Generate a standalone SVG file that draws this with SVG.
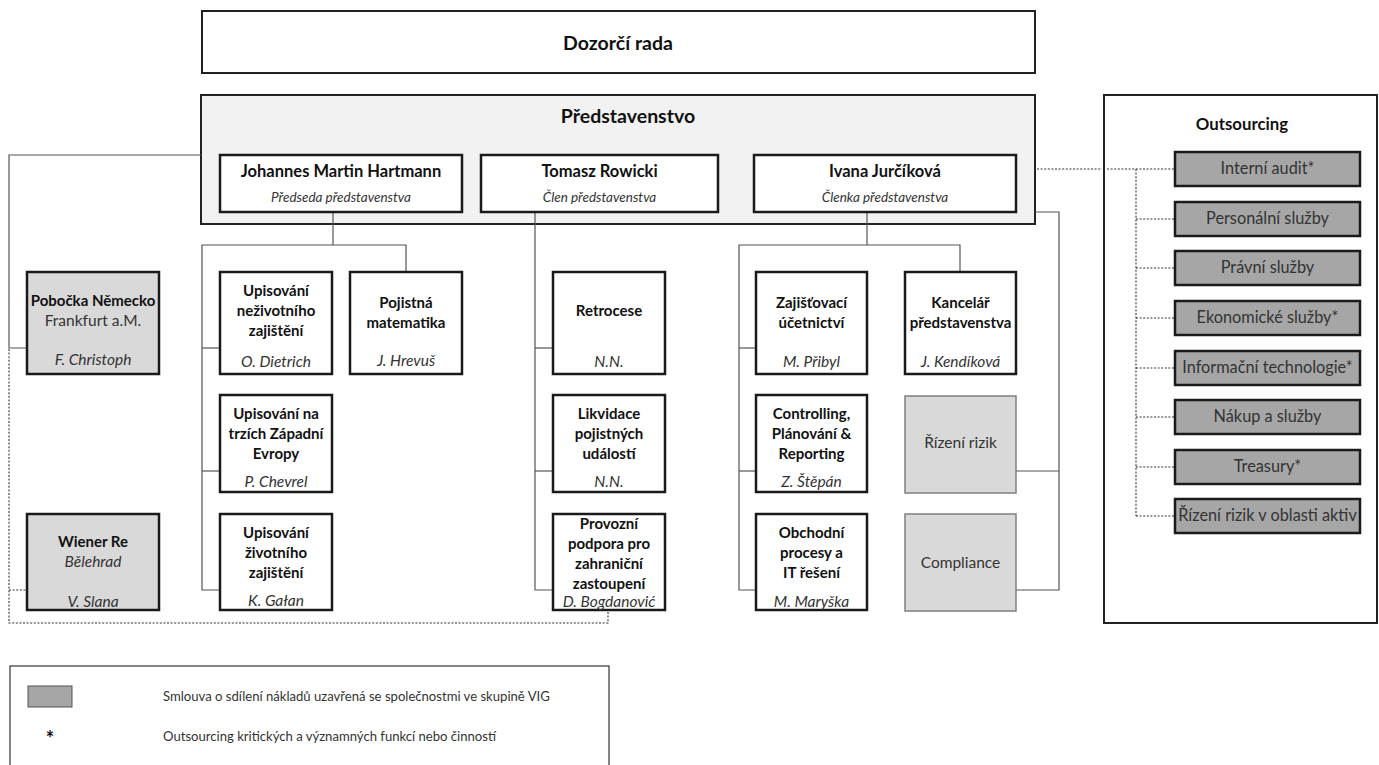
<svg xmlns="http://www.w3.org/2000/svg" width="1379" height="765" viewBox="0 0 1379 765">
<style>
text{font-family:Lato,"Open Sans","Liberation Sans",sans-serif;text-anchor:middle;fill:#111}
.b{font-weight:bold;font-size:15px}
.i{font-style:italic;font-size:15.5px;fill:#333}
.r{font-size:15.5px;fill:#333}
.o{font-size:16.3px;fill:#333}
.h{font-weight:bold;font-size:19.5px}
.box{fill:#fff;stroke:#1a1a1a;stroke-width:2.5}
.grey{fill:#d9d9d9;stroke:#1a1a1a;stroke-width:2.5}
.soft{fill:#d9d9d9;stroke:#7f7f7f;stroke-width:1.5}
.out{fill:#a6a6a6;stroke:#1a1a1a;stroke-width:2.5}
.ln{fill:none;stroke:#555;stroke-width:1.2}
.dt{fill:none;stroke:#333;stroke-width:1.1;stroke-dasharray:2 1.6}
.lt{font-size:13.1px;fill:#333;text-anchor:start}
</style>

<g id="dozorci-rada">
<rect x="202" y="11" width="833" height="62" fill="#fff" stroke="#222" stroke-width="2"/>
<text class="h" x="618" y="50">Dozorčí rada</text>
</g>

<g id="predstavenstvo">
<rect x="201" y="95" width="834" height="129" fill="#f2f2f2" stroke="#222" stroke-width="2"/>
<text class="h" x="628" y="123">Představenstvo</text>
</g>

<g id="outsourcing">
<rect x="1104" y="95" width="273" height="528" fill="#fff" stroke="#222" stroke-width="2"/>
<text class="b" x="1242" y="130" style="font-size:16.8px">Outsourcing</text>
</g>

<g id="legend">
<rect x="10" y="666" width="599" height="110" fill="#fff" stroke="#333" stroke-width="1.2"/>
<rect x="28" y="686" width="44" height="21" fill="#a6a6a6" stroke="#555" stroke-width="1"/>
<text class="lt" x="163" y="701">Smlouva o sdílení nákladů uzavřená se společnostmi ve skupině VIG</text>
<text x="50" y="746" style="font-size:20px;font-weight:bold">*</text>
<text class="lt" x="163" y="741">Outsourcing kritických a významných funkcí nebo činností</text>
</g>

<g id="connectors">
<polyline class="ln" points="201,155 9,155 9,348 27,348"/>
<polyline class="dt" points="9,349 9,623 608,623 608,611"/>
<line class="dt" x1="9" y1="590" x2="27" y2="590"/>
<line class="ln" x1="333" y1="212" x2="333" y2="245"/>
<polyline class="ln" points="406,272 406,245 202,245 202,590 220,590"/>
<line class="ln" x1="202" y1="348" x2="220" y2="348"/>
<line class="ln" x1="202" y1="471" x2="220" y2="471"/>
<polyline class="ln" points="535,212 535,590 553,590"/>
<line class="ln" x1="535" y1="348" x2="553" y2="348"/>
<line class="ln" x1="535" y1="471" x2="553" y2="471"/>
<line class="ln" x1="867" y1="212" x2="867" y2="245"/>
<polyline class="ln" points="960,272 960,245 739,245 739,590 756,590"/>
<line class="ln" x1="739" y1="348" x2="756" y2="348"/>
<line class="ln" x1="739" y1="471" x2="756" y2="471"/>
<polyline class="ln" points="1035,212 1059,212 1059,590 1016,590"/>
<line class="ln" x1="1059" y1="471" x2="1016" y2="471"/>
<line class="dt" x1="1037" y1="169" x2="1102" y2="169"/>
<line class="dt" x1="1107" y1="169" x2="1175" y2="169"/>
<line class="dt" x1="1136" y1="169" x2="1136" y2="516"/>
<line class="dt" x1="1136" y1="219" x2="1175" y2="219"/>
<line class="dt" x1="1136" y1="268" x2="1175" y2="268"/>
<line class="dt" x1="1136" y1="318" x2="1175" y2="318"/>
<line class="dt" x1="1136" y1="368" x2="1175" y2="368"/>
<line class="dt" x1="1136" y1="417" x2="1175" y2="417"/>
<line class="dt" x1="1136" y1="467" x2="1175" y2="467"/>
<line class="dt" x1="1136" y1="516" x2="1175" y2="516"/>
</g>

<g id="hartmann">
<rect class="box" x="220" y="155" width="242" height="57"/>
<text class="b" x="341" y="177" style="font-size:16.5px">Johannes Martin Hartmann</text>
<text class="i" x="341" y="202" style="font-size:13.5px">Předseda představenstva</text>
</g>
<g id="rowicki">
<rect class="box" x="481" y="155" width="237" height="57"/>
<text class="b" x="599.5" y="177" style="font-size:16.5px">Tomasz Rowicki</text>
<text class="i" x="599.5" y="202" style="font-size:13.5px">Člen představenstva</text>
</g>
<g id="jurcikova">
<rect class="box" x="754" y="155" width="262" height="57"/>
<text class="b" x="885" y="177" style="font-size:16.5px">Ivana Jurčíková</text>
<text class="i" x="885" y="202" style="font-size:13.5px">Členka představenstva</text>
</g>

<g id="pobocka-nemecko">
<rect class="grey" x="27" y="272" width="132" height="102"/>
<text class="b" x="93" y="306">Pobočka Německo</text>
<text class="r" x="93" y="326">Frankfurt a.M.</text>
<text class="i" x="93" y="365">F. Christoph</text>
</g>
<g id="wiener-re">
<rect class="grey" x="27" y="514" width="132" height="96"/>
<text class="b" x="93" y="547">Wiener Re</text>
<text class="i" x="93" y="567">Bělehrad</text>
<text class="i" x="93" y="607">V. Slana</text>
</g>

<g id="upisovani-nezivotniho">
<rect class="box" x="220" y="272" width="112" height="102"/>
<text class="b" x="276" y="296">Upisování</text>
<text class="b" x="276" y="316">neživotního</text>
<text class="b" x="276" y="336">zajištění</text>
<text class="i" x="276" y="367">O. Dietrich</text>
</g>
<g id="upisovani-zapadni-evropy">
<rect class="box" x="220" y="395" width="112" height="97"/>
<text class="b" x="276" y="419">Upisování na</text>
<text class="b" x="276" y="439">trzích Západní</text>
<text class="b" x="276" y="459">Evropy</text>
<text class="i" x="276" y="487">P. Chevrel</text>
</g>
<g id="upisovani-zivotniho">
<rect class="box" x="220" y="514" width="112" height="96"/>
<text class="b" x="276" y="538">Upisování</text>
<text class="b" x="276" y="558">životního</text>
<text class="b" x="276" y="578">zajištění</text>
<text class="i" x="276" y="606">K. Gałan</text>
</g>
<g id="pojistna-matematika">
<rect class="box" x="350" y="272" width="112" height="102"/>
<text class="b" x="406" y="308">Pojistná</text>
<text class="b" x="406" y="328">matematika</text>
<text class="i" x="406" y="366">J. Hrevuš</text>
</g>

<g id="retrocese">
<rect class="box" x="553" y="272" width="112" height="102"/>
<text class="b" x="609" y="316">Retrocese</text>
<text class="i" x="609" y="367">N.N.</text>
</g>
<g id="likvidace">
<rect class="box" x="553" y="395" width="112" height="97"/>
<text class="b" x="609" y="419">Likvidace</text>
<text class="b" x="609" y="439">pojistných</text>
<text class="b" x="609" y="459">událostí</text>
<text class="i" x="609" y="487">N.N.</text>
</g>
<g id="provozni-podpora">
<rect class="box" x="553" y="514" width="112" height="96"/>
<text class="b" x="609" y="529">Provozní</text>
<text class="b" x="609" y="549">podpora pro</text>
<text class="b" x="609" y="569">zahraniční</text>
<text class="b" x="609" y="589">zastoupení</text>
<text class="i" x="609" y="607">D. Bogdanović</text>
</g>

<g id="zajistovaci-ucetnictvi">
<rect class="box" x="756" y="272" width="111" height="102"/>
<text class="b" x="811.5" y="308">Zajišťovací</text>
<text class="b" x="811.5" y="328">účetnictví</text>
<text class="i" x="811.5" y="367">M. Přibyl</text>
</g>
<g id="controlling">
<rect class="box" x="756" y="395" width="111" height="97"/>
<text class="b" x="811.5" y="419">Controlling,</text>
<text class="b" x="811.5" y="439">Plánování &amp;</text>
<text class="b" x="811.5" y="459">Reporting</text>
<text class="i" x="811.5" y="487">Z. Štěpán</text>
</g>
<g id="obchodni-procesy">
<rect class="box" x="756" y="514" width="111" height="96"/>
<text class="b" x="811.5" y="538">Obchodní</text>
<text class="b" x="811.5" y="558">procesy a</text>
<text class="b" x="811.5" y="578">IT řešení</text>
<text class="i" x="811.5" y="607">M. Maryška</text>
</g>
<g id="kancelar-predstavenstva">
<rect class="box" x="905" y="272" width="111" height="102"/>
<text class="b" x="960.5" y="308">Kancelář</text>
<text class="b" x="960.5" y="328">představenstva</text>
<text class="i" x="960.5" y="367">J. Kendíková</text>
</g>
<g id="rizeni-rizik">
<rect class="soft" x="905" y="396" width="111" height="97"/>
<text class="r" x="960.5" y="448">Řízení rizik</text>
</g>
<g id="compliance">
<rect class="soft" x="905" y="514" width="111" height="97"/>
<text class="r" x="960.5" y="568">Compliance</text>
</g>

<g id="interni-audit"><rect class="out" x="1175" y="152" width="185" height="34"/><text class="o" x="1267.5" y="174">Interní audit*</text></g>
<g id="personalni-sluzby"><rect class="out" x="1175" y="202" width="185" height="34"/><text class="o" x="1267.5" y="224">Personální služby</text></g>
<g id="pravni-sluzby"><rect class="out" x="1175" y="251" width="185" height="34"/><text class="o" x="1267.5" y="273">Právní služby</text></g>
<g id="ekonomicke-sluzby"><rect class="out" x="1175" y="301" width="185" height="34"/><text class="o" x="1267.5" y="323">Ekonomické služby*</text></g>
<g id="informacni-technologie"><rect class="out" x="1175" y="351" width="185" height="34"/><text class="o" x="1267.5" y="373">Informační technologie*</text></g>
<g id="nakup-a-sluzby"><rect class="out" x="1175" y="400" width="185" height="34"/><text class="o" x="1267.5" y="422">Nákup a služby</text></g>
<g id="treasury"><rect class="out" x="1175" y="450" width="185" height="34"/><text class="o" x="1267.5" y="472">Treasury*</text></g>
<g id="rizeni-rizik-aktiv"><rect class="out" x="1175" y="499" width="185" height="34"/><text class="o" x="1267.5" y="521">Řízení rizik v oblasti aktiv</text></g>
</svg>
